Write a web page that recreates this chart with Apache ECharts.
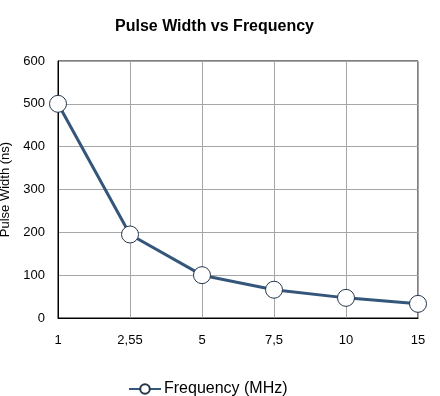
<!DOCTYPE html>
<html>
<head>
<meta charset="utf-8">
<script src="https://cdn.jsdelivr.net/npm/echarts@6/dist/echarts.min.js"></script>
<style>
  html, body { margin: 0; padding: 0; background: #fff; }
  #chart { width: 440px; height: 396px; }
</style>
</head>
<body>
<div id="chart"></div>
<script>
// data
const frequencies = ["1", "2,55", "5", "7,5", "10", "15"];
const pulseWidths = [500, 195, 100, 66, 47, 33];
const yTicks = { min: 0, max: 600, step: 100 };

const lineColor = "#34567a";
const font = "Arial, 'Liberation Sans', sans-serif";

const chart = echarts.init(document.getElementById("chart"), null, { renderer: "canvas" });

chart.setOption({
  animation: false,
  title: {
    text: "Pulse Width vs Frequency",
    left: 110,
    top: 14,
    textStyle: { fontFamily: font, fontSize: 16, fontWeight: "bold", color: "#000" },
  },
  grid: {
    left: 58,
    right: 22,
    top: 61,
    bottom: 78,
    outerBoundsMode: "none",
    show: true,
    borderColor: "#000",
    borderWidth: 1,
  },
  legend: {
    top: 376,
    left: 123,
    itemWidth: 32,
    itemHeight: 12,
    itemGap: 4,
    textStyle: { fontFamily: font, fontSize: 16, color: "#000", padding: [0, 0, 0, -2] },
    data: ["Frequency (MHz)"],
  },
  xAxis: {
    type: "category",
    data: frequencies,
    boundaryGap: false,
    axisLine: { lineStyle: { color: "#000" } },
    axisTick: { show: false },
    axisLabel: { fontFamily: font, fontSize: 13, color: "#000", margin: 16 },
    splitLine: { show: true, lineStyle: { color: "#a6a6a6", width: 1 } },
  },
  yAxis: {
    type: "value",
    min: yTicks.min,
    max: yTicks.max,
    interval: yTicks.step,
    name: "Pulse Width (ns)",
    nameLocation: "middle",
    nameGap: 38,
    nameTextStyle: { fontFamily: font, fontSize: 13, color: "#000" },
    axisLine: { show: true, lineStyle: { color: "#000" } },
    axisTick: { show: false },
    axisLabel: { fontFamily: font, fontSize: 13, color: "#000", margin: 13 },
    splitLine: { show: true, lineStyle: { color: "#a6a6a6", width: 1 } },
  },
  series: [
    {
      name: "Frequency (MHz)",
      type: "line",
      data: pulseWidths,
      symbol: "circle",
      symbolSize: 17,
      showAllSymbol: true,
      lineStyle: { color: lineColor, width: 3 },
      itemStyle: { color: "#fff", borderColor: "#24364a", borderWidth: 1 },
    },
  ],
});
</script>
</body>
</html>
